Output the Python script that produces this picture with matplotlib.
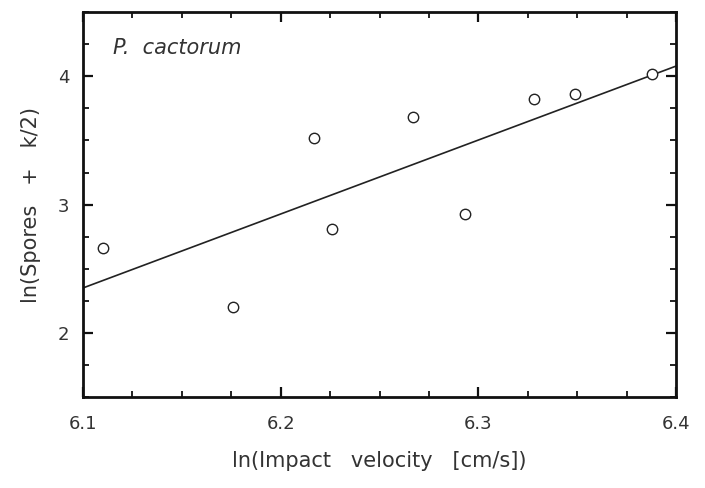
import numpy as np
import matplotlib
matplotlib.use("Agg")
import matplotlib.pyplot as plt
from matplotlib.ticker import MultipleLocator

# data
impact_ln = [6.110, 6.176, 6.217, 6.226, 6.267, 6.293, 6.328, 6.349, 6.388]
spores_ln = [2.66, 2.20, 3.52, 2.81, 3.68, 2.93, 3.82, 3.86, 4.02]

# fitted line, end values
fit_x = [6.1, 6.4]
fit_y = [2.35, 4.08]

txt_col = "#333333"

fig = plt.figure(figsize=(7.05, 4.88), dpi=100)
ax = fig.add_axes([0.1177, 0.1865, 0.8413, 0.7885])

ax.plot(fit_x, fit_y, color="#222222", lw=1.2)
ax.plot(impact_ln, spores_ln, "o", mfc="white", mec="#222222", ms=7.5, mew=1.0)

ax.set_xlim(6.1, 6.4)
ax.set_ylim(1.5, 4.5)
ax.xaxis.set_major_locator(MultipleLocator(0.1))
ax.xaxis.set_minor_locator(MultipleLocator(0.025))
ax.yaxis.set_major_locator(MultipleLocator(1))
ax.yaxis.set_minor_locator(MultipleLocator(0.25))
ax.set_yticks([2, 3, 4])

ax.tick_params(which="both", direction="in", top=True, right=True,
               colors="#111111", labelcolor=txt_col, labelsize=13)
ax.tick_params(which="major", length=7, width=1.6, pad=13)
ax.tick_params(which="minor", length=4, width=1.3)
ax.tick_params(axis="y", which="major", pad=10)

for s in ax.spines.values():
    s.set_linewidth(2)
    s.set_color("#111111")

ax.set_xlabel("ln(Impact   velocity   [cm/s])", fontsize=15,
              color=txt_col, labelpad=13)
ax.set_ylabel("ln(Spores   +   k/2)", fontsize=15, color=txt_col, labelpad=12)

ax.text(0.05, 0.906, "P.  cactorum", transform=ax.transAxes, fontsize=15,
        style="italic", color=txt_col, va="center")

fig.savefig("out.png", dpi=100)
